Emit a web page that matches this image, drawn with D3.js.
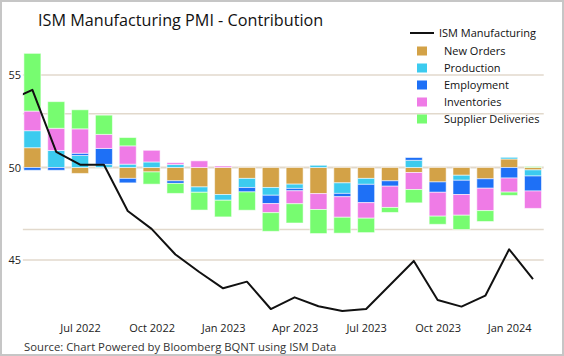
<!DOCTYPE html>
<html>
<head>
<meta charset="utf-8">
<script src="https://cdn.jsdelivr.net/npm/d3@7"></script>
<style>
  html, body { margin: 0; padding: 0; background: #fff; }
  svg { display: block; font-family: "Open Sans", sans-serif; }
</style>
</head>
<body>
<svg id="chart" width="564" height="356"></svg>
<script>
// ---- data ----
const barMonths = ["2022-05","2022-06","2022-07","2022-08","2022-09","2022-10","2022-11","2022-12",
  "2023-01","2023-02","2023-03","2023-04","2023-05","2023-06","2023-07","2023-08","2023-09","2023-10",
  "2023-11","2023-12","2024-01","2024-02"];
const newOrders   = [ 1.07, 0.00,-0.32, 0.00,-0.59,-0.24,-0.72,-1.05,-1.46,-0.59,-1.08,-0.90,-1.41,-0.83,-0.59,-0.72,-0.27,-0.78,-0.42,-0.61, 0.46,-0.13];
const production  = [ 0.92, 0.92, 0.65, 0.17, 0.18, 0.30, 0.16,-0.29,-0.31,-0.49,-0.42,-0.23, 0.12,-0.57,-0.32, 0.00, 0.39, 0.00,-0.27, 0.00, 0.09,-0.33];
const employment  = [-0.15,-0.15, 0.12, 0.86,-0.24, 0.00,-0.14, 0.00, 0.00,-0.24,-0.45,-0.13, 0.00,-0.18,-0.99,-0.29, 0.15,-0.56,-0.77,-0.51,-0.57,-0.81];
const inventories = [ 1.06, 1.20, 1.32, 0.76, 0.99, 0.63, 0.10, 0.36, 0.08, 0.00,-0.49,-0.70,-0.86,-1.11,-0.84,-1.15,-0.92,-1.29,-1.12,-1.21,-0.76,-0.94];
const supplierDel = [ 3.12, 1.44, 1.03, 1.04, 0.45,-0.66,-0.54,-0.96,-0.90,-0.99,-1.01,-1.04,-1.30,-0.86,-0.78,-0.27,-0.72,-0.44,-0.77,-0.59,-0.18, 0.05];

const lineMonths = ["2022-04", ...barMonths];
const ismManufacturing = [53.6, 54.2, 50.85, 50.15, 50.15, 47.65, 46.68, 45.3, 44.35, 43.47, 43.83, 42.35,
  42.98, 42.5, 42.24, 42.35, 43.65, 44.95, 42.84, 42.48, 43.07, 45.58, 43.97];

const seriesNames  = ["New Orders","Production","Employment","Inventories","Supplier Deliveries"];
const seriesColors = ["#D3A247","#3CCBEF","#1E70F6","#EF7BE6","#77FC70"];
const yTickLabels  = [45, 50, 55];
const gridValues   = [45, 46.65, 50, 52.9, 55];
const xTickMonths  = ["2022-07","2022-10","2023-01","2023-04","2023-07","2023-10","2024-01"];
const monthNames   = ["Jan","Feb","Mar","Apr","May","Jun","Jul","Aug","Sep","Oct","Nov","Dec"];

// ---- helpers ----
const idx = m => { const [y, mo] = m.split("-").map(Number); return (y - 2022) * 12 + (mo - 5); };
const label = m => { const [y, mo] = m.split("-").map(Number); return monthNames[mo - 1] + " " + y; };

const svg = d3.select("#chart");
const W = 564, H = 356;

// border
svg.append("rect").attr("x", 1).attr("y", 1).attr("width", W - 2).attr("height", H - 2)
  .attr("fill", "#fff").attr("stroke", "#c6c6c6").attr("stroke-width", 2);

const x = d3.scaleLinear().domain([0, 21]).range([32.4, 533]);
const y = d3.scaleLinear().domain([45, 55]).range([260, 75]);
const plotL = x(-0.4), plotR = x(21.45);
const barW = 17;

// title
svg.append("text").attr("x", 38).attr("y", 26).attr("font-size", 16.2).attr("fill", "#111")
  .text("ISM Manufacturing PMI - Contribution");

// gridlines
svg.append("g").selectAll("line").data(gridValues).join("line")
  .attr("x1", plotL).attr("x2", plotR)
  .attr("y1", d => y(d)).attr("y2", d => y(d))
  .attr("stroke", "#e2d9cc").attr("stroke-width", d => d === 50 ? 2 : 1.5);

// y axis labels
const yAxis = d3.axisLeft(y).tickValues(yTickLabels).tickSize(0).tickPadding(0);
svg.append("g").attr("transform", `translate(21,0)`).call(yAxis)
  .call(g => g.select(".domain").remove())
  .selectAll("text").attr("font-size", 11).attr("fill", "#222").attr("font-family", "Open Sans");

// x axis labels
const xAxis = d3.axisBottom(x).tickValues(xTickMonths.map(idx))
  .tickFormat((d, i) => label(xTickMonths[i])).tickSize(0).tickPadding(0);
svg.append("g").attr("transform", `translate(0,324)`).call(xAxis)
  .call(g => g.select(".domain").remove())
  .selectAll("text").attr("font-size", 11).attr("fill", "#222").attr("font-family", "Open Sans");

// stacked bars
const table = barMonths.map((m, i) => ({
  month: m,
  "New Orders": newOrders[i], "Production": production[i], "Employment": employment[i],
  "Inventories": inventories[i], "Supplier Deliveries": supplierDel[i]
}));
const stack = d3.stack().keys(seriesNames).offset(d3.stackOffsetDiverging);
const layers = stack(table);
svg.append("g").selectAll("g").data(layers).join("g")
  .attr("fill", (d, i) => seriesColors[i])
  .selectAll("rect").data(d => d.filter(p => p[1] !== p[0])).join("rect")
  .attr("x", d => x(idx(d.data.month)) - barW / 2)
  .attr("width", barW)
  .attr("y", d => y(50 + Math.max(d[0], d[1])))
  .attr("height", d => Math.abs(y(50 + d[0]) - y(50 + d[1])))
  .attr("stroke", "#ffffff").attr("stroke-opacity", 0.55).attr("stroke-width", 1);

// clip for line
svg.append("clipPath").attr("id", "plotclip").append("rect")
  .attr("x", plotL).attr("y", 40).attr("width", plotR - plotL).attr("height", 280);

const line = d3.line().x((d, i) => x(idx(lineMonths[i]))).y(d => y(d));
svg.append("path").datum(ismManufacturing).attr("clip-path", "url(#plotclip)")
  .attr("d", line).attr("fill", "none").attr("stroke", "#111").attr("stroke-width", 2)
  .attr("stroke-linejoin", "round");

// legend
const lg = svg.append("g");
lg.append("line").attr("x1", 410).attr("x2", 434).attr("y1", 33).attr("y2", 33)
  .attr("stroke", "#111").attr("stroke-width", 2);
lg.append("text").attr("x", 439).attr("y", 37).attr("font-size", 11).attr("fill", "#111")
  .text("ISM Manufacturing");
seriesNames.forEach((n, i) => {
  const cy = 50.5 + i * 17;
  lg.append("rect").attr("x", 417).attr("y", cy - 4).attr("width", 10).attr("height", 9)
    .attr("fill", seriesColors[i]);
  lg.append("text").attr("x", 444).attr("y", cy + 4).attr("font-size", 11).attr("fill", "#111").text(n);
});

// source
svg.append("text").attr("x", 24).attr("y", 351).attr("font-size", 11.3).attr("fill", "#333")
  .text("Source: Chart Powered by Bloomberg BQNT using ISM Data");
</script>
</body>
</html>
